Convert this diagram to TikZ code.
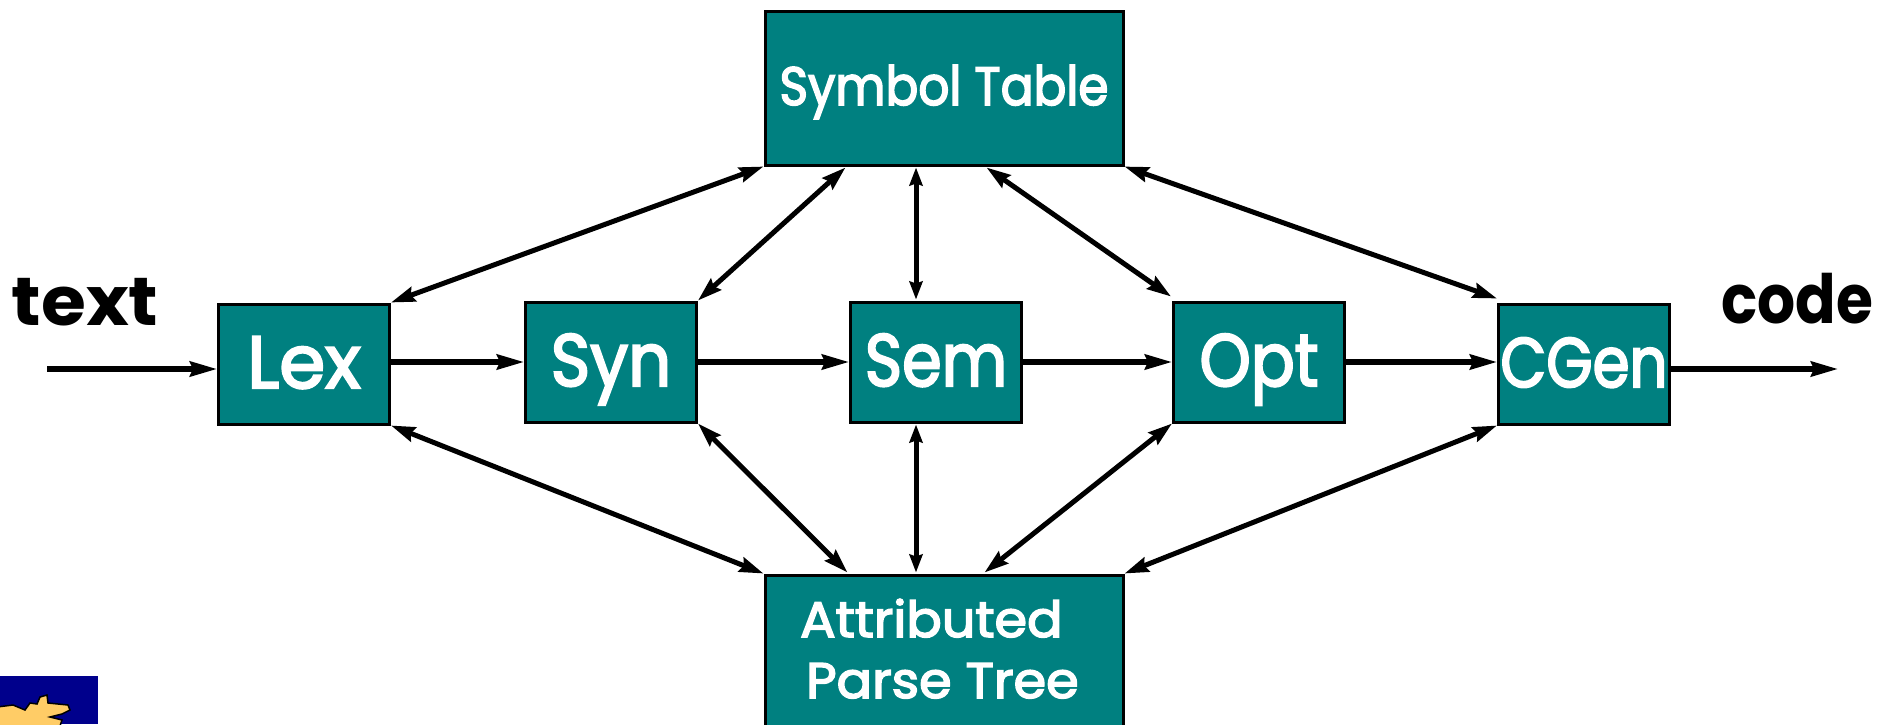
\documentclass[tikz,border=0pt]{standalone}
\usepackage{fontspec}
\usetikzlibrary{arrows.meta,calc}
\setmainfont{Poppins}
\newfontfamily\boxfont[FakeBold=3]{Poppins}
\definecolor{tealbox}{HTML}{008080}
\definecolor{logoblue}{HTML}{00008C}
\definecolor{logoyellow}{HTML}{FFCC66}
\newcommand{\lbl}[3]{\raisebox{#1pt}[0pt][0pt]{\scalebox{#2}[1]{#3}}}
\tikzset{
  box/.style={draw=black,fill=tealbox,line width=3pt,text=white,inner sep=0pt,font=\boxfont\fontsize{74}{74}\selectfont},
  bigbox/.style={box,minimum width=358pt},
  stage/.style={box,minimum width=171pt,minimum height=120pt},
  flow/.style={line width=5.2pt,-{Stealth[length=27pt,width=15pt,inset=3pt]}},
  link/.style={line width=5pt,{Stealth[length=24pt,width=15pt,inset=3pt]}-{Stealth[length=24pt,width=15pt,inset=3pt]}},
  vlink/.style={line width=5pt,{Stealth[length=18pt,width=13pt,inset=2pt]}-{Stealth[length=18pt,width=13pt,inset=2pt]}},
  side/.style={font=\fontsize{68}{68}\selectfont\bfseries,text=black,inner sep=0pt,anchor=base}
}
\begin{document}
\begin{tikzpicture}[x=1pt,y=-1pt]
\useasboundingbox (0,0) rectangle (1893,724);
\clip (0,0) rectangle (1893,724);
% stages
\node[stage] (Lex) at (304,364) {\lbl{-24}{1}{Lex}};
\node[stage] (Syn) at (611,362) {\lbl{-24}{0.91}{Syn}};
\node[stage] (Sem) at (936,362) {\lbl{-24}{0.86}{Sem}};
\node[stage] (Opt) at (1259,362) {\lbl{-24}{0.88}{Opt}};
\node[stage,font=\boxfont\fontsize{70}{70}\selectfont] (CGen) at (1584,364) {\lbl{-23}{0.85}{CGen}};
% stores
\node[bigbox,minimum height=154pt,font=\boxfont\fontsize{54}{54}\selectfont] (Sym) at (944,88) {\lbl{-17}{0.9}{Symbol Table}};
\node[bigbox,minimum height=190pt] (Attr) at (944,670) {};
\node[font=\boxfont\fontsize{50}{60}\selectfont,text=white,align=left,inner sep=0pt,anchor=base west] (AttrT) at (800,698) {\scalebox{1.05}[1]{Attributed}\\[1pt]\hspace*{6pt}\scalebox{1.05}[1]{Parse Tree}};
% outer labels
\node[side] (TextL) at (85,325) {\scalebox{1.07}[1]{text}};
\node[side] (CodeL) at (1797,323) {\scalebox{0.88}[1]{code}};
\coordinate (In) at (47,369);
\coordinate (Out) at (1838,369);
% main flow
\draw[flow] (In) -- (In -| Lex.west);
\draw[flow] (Lex.east |- Syn) -- (Syn.west);
\draw[flow] (Syn) ++(86,0) -- (Sem.west);
\draw[flow] (Sem.east) -- (Opt.west);
\draw[flow] (Opt.east) -- (Opt -| CGen.west);
\draw[flow] (Out -| CGen.east) -- (Out);
% symbol table links
\draw[link] (Sym.south west) -- (Lex.north east);
\draw[link] ($(Sym.south west)+(82,1)$) -- ($(Syn.north east)+(0,0)$);
\draw[vlink] ($(Sym.south)+(-28,1)$) -- ($(Sem.north)+(-20,-1)$);
\draw[link] ($(Sym.south west)+(223,1)$) -- ($(Opt.north west)+(-1,-4)$);
\draw[link] (Sym.south east) -- ($(CGen.north west)+(0,-4)$);
% parse tree links
\draw[link] (Lex.south east) -- (Attr.north west);
\draw[link] (Syn.south east) -- ($(Attr.north west)+(84,-1)$);
\draw[vlink] ($(Sem.south)+(-20,1)$) -- ($(Attr.north)+(-28,-1)$);
\draw[link] (Opt.south west) -- ($(Attr.north west)+(221,-1)$);
\draw[link] (CGen.south west) -- (Attr.north east);
% logo
\fill[logoblue] (0,676) rectangle (98,724);
\fill[logoyellow,draw=black,line width=1.5pt] (-3,707) -- (13,705) -- (25,710) -- (30,703) -- (37,704) -- (40,697) -- (47,695) -- (48,703) -- (68,705) -- (70,710) -- (62,714) -- (50,717) -- (62,720) -- (60,726) -- (-3,726) -- cycle;
\end{tikzpicture}
\end{document}
